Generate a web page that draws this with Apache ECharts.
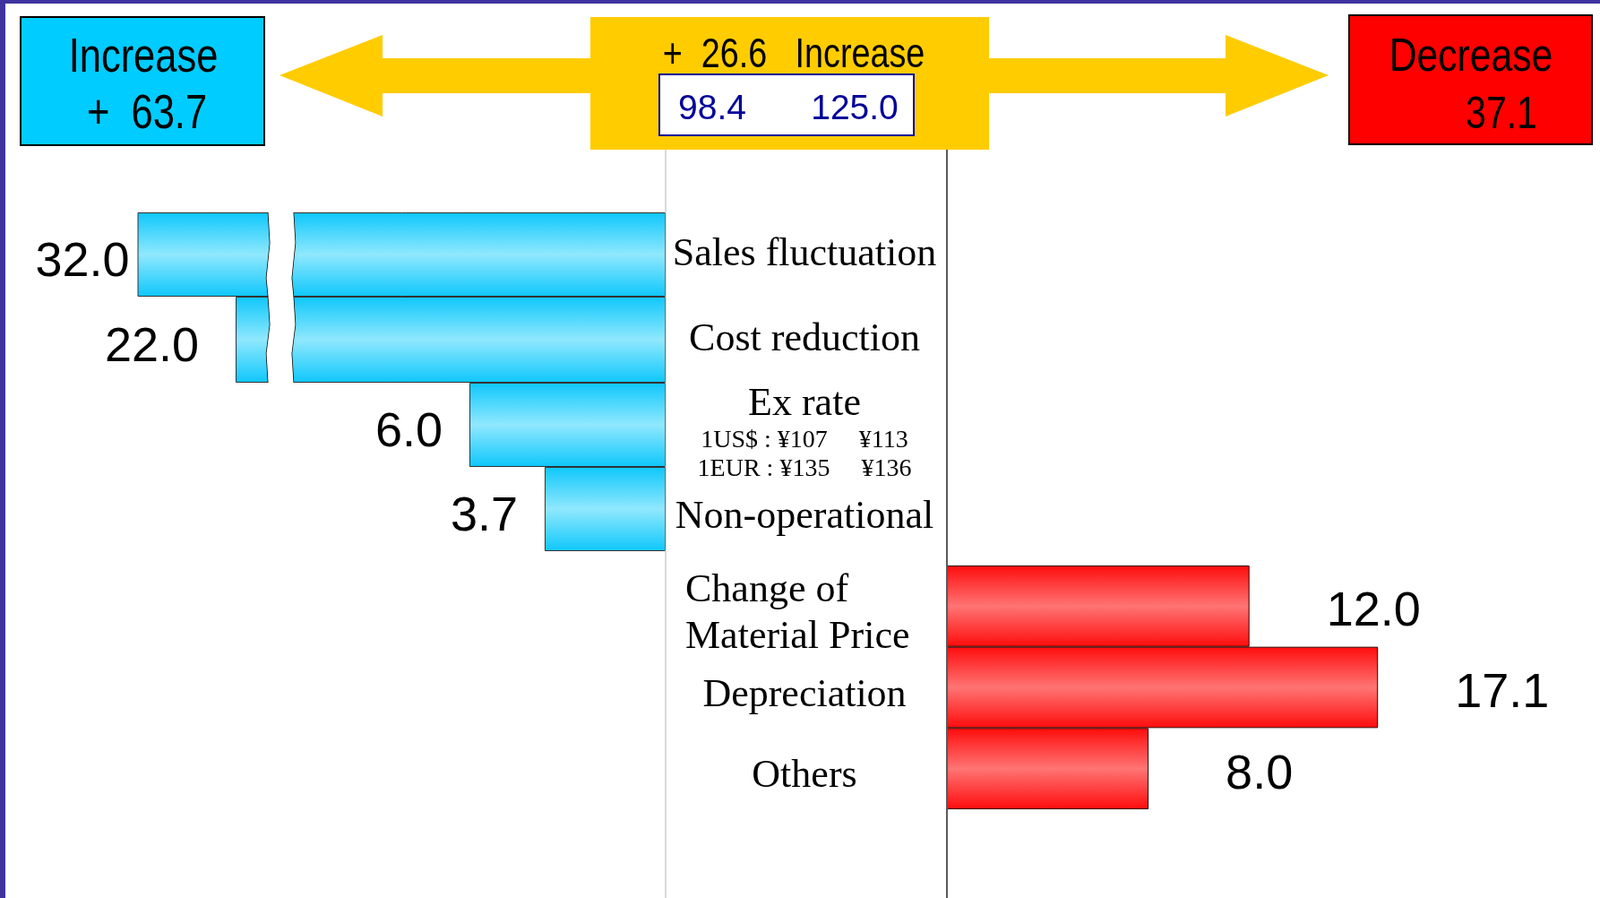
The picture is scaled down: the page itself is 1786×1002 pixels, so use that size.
<!DOCTYPE html>
<html>
<head>
<meta charset="utf-8">
<script src="https://cdn.jsdelivr.net/npm/echarts@6/dist/echarts.min.js"></script>
<style>
  html, body { margin: 0; padding: 0; background: #fff; }
  #chart { width: 1786px; height: 1002px; }
</style>
</head>
<body>
<div id="chart"></div>
<script>
// profit bridge: increase factors (left, blue) and decrease factors (right, red)
var upNames = ["Sales fluctuation", "Cost reduction", "Ex rate", "Non-operational"];
var upValues = [32.0, 22.0, 6.0, 3.7];
var downNames = ["Change of\nMaterial Price", "Depreciation", "Others"];
var downValues = [12.0, 17.1, 8.0];
var rateNotes = ["1US$ : ¥107     ¥113", "1EUR : ¥135     ¥136"];
var profitBefore = 98.4;

var sum = function (arr) {
  return arr.reduce(function (a, b) { return a + b; }, 0);
};
var totalUp = sum(upValues);
var totalDown = sum(downValues);
var net = totalUp - totalDown;
var profitAfter = profitBefore + net;

// layout
var W = 1786, H = 1002;
var upAxisX = 743, downAxisX = 1057;
var upPx = 36.5;     // px per unit on the left side
var upWidth = 643;
var downPx = 28.14;
var downMax = 24;
var breakStart = 11.4, breakGap = 0.75;
var breakEnds = [28, 21];   // the two long bars are cut

var sans = '"Liberation Sans", Arial, sans-serif';
var serif = '"Liberation Serif", "Times New Roman", serif';

var blueFill = new echarts.graphic.LinearGradient(0, 0, 0, 1, [
  { offset: 0, color: "#0ec7fb" },
  { offset: 0.5, color: "#90e8fe" },
  { offset: 1, color: "#0ec7fb" },
]);
var redFill = new echarts.graphic.LinearGradient(0, 0, 0, 1, [
  { offset: 0, color: "#ff0c0c" },
  { offset: 0.5, color: "#ff7474" },
  { offset: 1, color: "#ff0c0c" },
]);

function valueAxis(idx, max, brkEnd) {
  var ax = {
    type: "value",
    gridIndex: idx,
    min: 0,
    max: max,
    inverse: idx < 3,
    axisLine: { show: false },
    axisTick: { show: false },
    axisLabel: { show: false },
    splitLine: { show: false },
  };
  if (brkEnd) {
    ax.breaks = [{ start: breakStart, end: brkEnd, gap: breakGap }];
    ax.breakArea = {
      show: true,
      expandOnClick: false,
      zigzagAmplitude: 2,
      zigzagMinSpan: 25,
      zigzagMaxSpan: 45,
      zigzagZ: 100,
      itemStyle: {
        color: "#fff",
        borderColor: "#000",
        borderWidth: 1.5,
        borderType: "solid",
        opacity: 1,
      },
    };
  }
  return ax;
}

var catRich = {
  big: { fontFamily: serif, fontSize: 44, lineHeight: 50, color: "#000" },
  small: { fontFamily: serif, fontSize: 28, lineHeight: 32, color: "#000" },
  l: { fontFamily: serif, fontSize: 44, lineHeight: 52, width: 266, align: "left", color: "#000" },
};

function catLabel(v) {
  if (v == "Ex rate") {
    return "{big|" + v + "}\n{small|" + rateNotes[0] + "}\n{small|" + rateNotes[1] + "}";
  }
  if (v.indexOf("\n") >= 0) {
    return v.split("\n").map(function (s) { return "{l|" + s + "}"; }).join("\n");
  }
  return v;
}

function catAxis(idx, names, pos, margin, drop) {
  return {
    type: "category",
    gridIndex: idx,
    data: names,
    inverse: true,
    position: pos,
    axisLine: { show: false },
    axisTick: { show: false },
    splitLine: { show: false },
    axisLabel: {
      interval: 0,
      margin: margin,
      align: "center",
      padding: [drop * 2, 0, 0, 0],
      fontFamily: serif,
      fontSize: 44,
      color: "#000",
      formatter: catLabel,
      rich: catRich,
    },
  };
}

function barSeries(idx, data, fill, border, pos, dist, dy) {
  return {
    type: "bar",
    xAxisIndex: idx,
    yAxisIndex: idx,
    data: data,
    barWidth: "100%",
    itemStyle: { color: fill, borderColor: border, borderWidth: 1 },
    label: {
      show: true,
      position: pos,
      distance: dist,
      offset: [0, dy],
      fontFamily: sans,
      fontSize: 54,
      color: "#000",
      formatter: function (p) { return p.value.toFixed(1); },
    },
  };
}

function narrowText(x, y, text, size, color) {
  return {
    type: "text",
    x: x,
    y: y,
    scaleX: 0.82,
    z: 20,
    style: {
      text: text,
      font: size + "px " + sans,
      fill: color || "#000",
      textAlign: "center",
      textVerticalAlign: "middle",
    },
  };
}

var upMaxPlain = upWidth / upPx;
var upGridLeft = upAxisX - upWidth;
var upGridRight = W - upAxisX;

var myChart = echarts.init(document.getElementById("chart"), null, { renderer: "canvas" });
myChart.setOption({
  backgroundColor: "#fff",
  animation: false,
  grid: [
    { left: upGridLeft, right: upGridRight, top: 237, height: 94, outerBoundsMode: "none" },
    { left: upGridLeft, right: upGridRight, top: 331, height: 96, outerBoundsMode: "none" },
    { left: upGridLeft, right: upGridRight, top: 427, height: 188, outerBoundsMode: "none" },
    { left: downAxisX, width: downMax * downPx, top: 631, height: 272, outerBoundsMode: "none" },
  ],
  xAxis: [
    valueAxis(0, upMaxPlain + (breakEnds[0] - breakStart - breakGap), breakEnds[0]),
    valueAxis(1, upMaxPlain + (breakEnds[1] - breakStart - breakGap), breakEnds[1]),
    valueAxis(2, upMaxPlain),
    valueAxis(3, downMax),
  ],
  yAxis: [
    catAxis(0, upNames.slice(0, 1), "right", 155, 0),
    catAxis(1, upNames.slice(1, 2), "right", 155, 0),
    catAxis(2, upNames.slice(2), "right", 155, 9),
    catAxis(3, downNames, "left", 159, 9),
  ],
  series: [
    barSeries(0, upValues.slice(0, 1), blueFill, "#333", "left", 9, 9),
    barSeries(1, upValues.slice(1, 2), blueFill, "#333", "left", 41, 9),
    barSeries(2, upValues.slice(2), blueFill, "#333", "left", 30, 9),
    barSeries(3, downValues, redFill, "#300", "right", 86, 7),
  ],
  graphic: [
    // frame edges
    { type: "rect", shape: { x: 0, y: 0, width: 6, height: H }, style: { fill: "#3f33a0" }, z: 30 },
    { type: "rect", shape: { x: 0, y: 0, width: W, height: 4 }, style: { fill: "#3f33a0" }, z: 30 },
    // divider lines
    { type: "line", shape: { x1: upAxisX, y1: 167, x2: upAxisX, y2: H }, style: { stroke: "#b4b4b4", lineWidth: 1 }, z: 5 },
    { type: "line", shape: { x1: downAxisX, y1: 167, x2: downAxisX, y2: H }, style: { stroke: "#5a5a5a", lineWidth: 2 }, z: 5 },
    // arrows
    {
      type: "polygon",
      shape: { points: [[312, 84], [427, 39], [427, 65], [660, 65], [660, 104], [427, 104], [427, 130]] },
      style: { fill: "#ffcc00" },
    },
    {
      type: "polygon",
      shape: { points: [[1483, 84], [1368, 39], [1368, 65], [1103, 65], [1103, 104], [1368, 104], [1368, 130]] },
      style: { fill: "#ffcc00" },
    },
    // boxes
    { type: "rect", shape: { x: 23, y: 19, width: 272, height: 143 }, style: { fill: "#00ccff", stroke: "#000", lineWidth: 2 } },
    { type: "rect", shape: { x: 659, y: 19, width: 445, height: 148 }, style: { fill: "#ffcc00" } },
    { type: "rect", shape: { x: 736, y: 83, width: 284, height: 68 }, style: { fill: "#fff", stroke: "#000099", lineWidth: 2 }, z: 2 },
    { type: "rect", shape: { x: 1506, y: 17, width: 271, height: 144 }, style: { fill: "#ff0000", stroke: "#000", lineWidth: 2 } },
    // box texts
    narrowText(160, 65, "Increase", 53),
    narrowText(164, 128, "+  " + totalUp.toFixed(1), 53),
    narrowText(886, 62, "+  " + net.toFixed(1) + "   Increase", 46),
    narrowText(1642, 65, "Decrease", 52),
    narrowText(1676, 129, totalDown.toFixed(1), 50),
    {
      type: "text", x: 795, y: 122, z: 20,
      style: { text: profitBefore.toFixed(1), font: "39px " + sans, fill: "#000099", textAlign: "center", textVerticalAlign: "middle" },
    },
    {
      type: "text", x: 954, y: 122, z: 20,
      style: { text: profitAfter.toFixed(1), font: "39px " + sans, fill: "#000099", textAlign: "center", textVerticalAlign: "middle" },
    },
  ],
});
</script>
</body>
</html>
